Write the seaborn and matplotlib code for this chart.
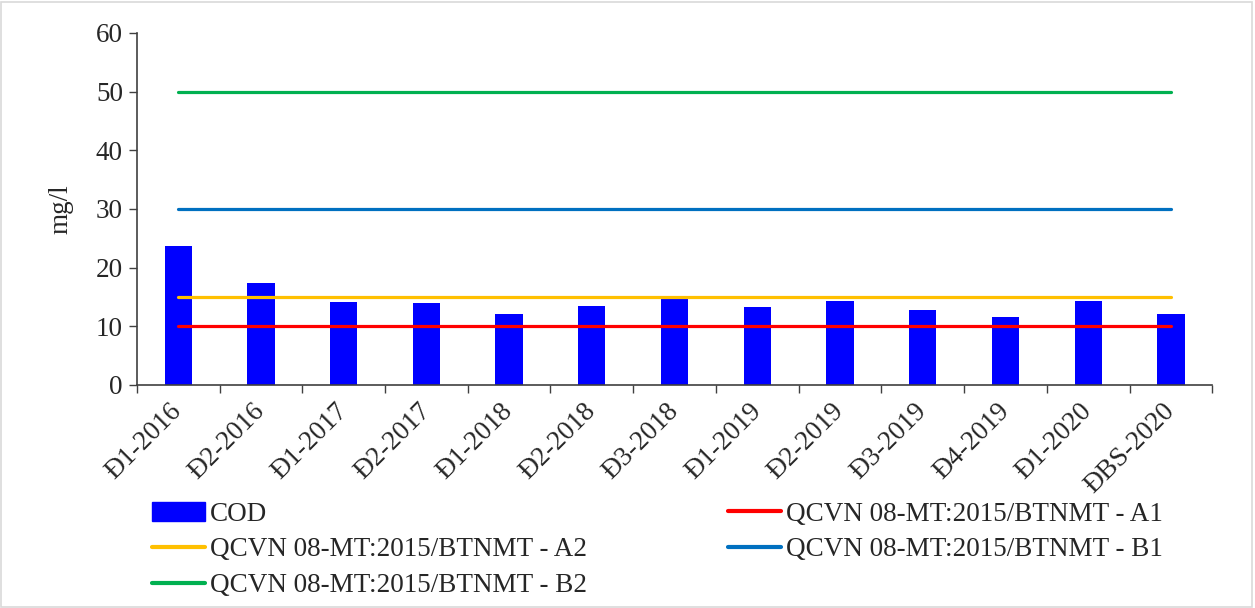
import matplotlib
matplotlib.use("Agg")
import matplotlib.pyplot as plt
import seaborn as sns
import pandas as pd
from matplotlib.patches import Rectangle
from matplotlib.lines import Line2D

categories = ["Đ1-2016", "Đ2-2016", "Đ1-2017", "Đ2-2017", "Đ1-2018", "Đ2-2018", "Đ3-2018",
              "Đ1-2019", "Đ2-2019", "Đ3-2019", "Đ4-2019", "Đ1-2020", "ĐBS-2020"]
cod = [23.7, 17.4, 14.1, 14.0, 12.0, 13.4, 14.7, 13.2, 14.3, 12.8, 11.5, 14.3, 12.1]
std_names = ["QCVN 08-MT:2015/BTNMT - A1", "QCVN 08-MT:2015/BTNMT - A2",
             "QCVN 08-MT:2015/BTNMT - B1", "QCVN 08-MT:2015/BTNMT - B2"]
std_values = [10, 15, 30, 50]
std_colors = ["#FF0000", "#FFC000", "#0070C0", "#00B050"]
yticks = [0, 10, 20, 30, 40, 50, 60]

FS = 19.5

sns.set_theme(style="white")
plt.rcParams["font.family"] = ["Liberation Serif", "DejaVu Serif"]

fig = plt.figure(figsize=(12.55, 6.08), dpi=100)
ax = fig.add_axes([0.109, 0.367, 0.857, 0.579])

df = pd.DataFrame({"cat": categories, "COD": cod})
sns.barplot(data=df, x="cat", y="COD", color="#0000FF", width=0.33, ax=ax,
            saturation=1, edgecolor="none", zorder=2)

xs = list(range(len(categories)))
for name, val, col in zip(std_names, std_values, std_colors):
    sns.lineplot(x=[xs[0], xs[-1]], y=[val, val], color=col, linewidth=2.3, ax=ax,
                 zorder=3, legend=False)

ax.set_xlim(-0.5, len(categories) - 0.5)
ax.set_ylim(0, 60)
ax.set_yticks(yticks)
ax.set_yticklabels([str(t) for t in yticks], fontsize=FS)
ax.set_xticks([i - 0.5 for i in range(len(categories) + 1)])
ax.set_xticklabels([])
ax.set_xticks(xs, minor=True)
ax.set_xticklabels(categories, minor=True, rotation=45, ha="right", va="center",
                   rotation_mode="anchor", fontsize=FS)
ax.tick_params(axis="x", which="minor", length=0, pad=16)
ax.tick_params(axis="x", which="major", direction="out", length=6, width=1, color="#404040", bottom=True)
ax.tick_params(axis="y", direction="out", length=6, width=1, color="#404040", left=True, pad=4)
ax.set_xlabel("")
ax.set_ylabel("mg/l", fontsize=FS, labelpad=16)
for s in ["top", "right"]:
    ax.spines[s].set_visible(False)
for s in ["left", "bottom"]:
    ax.spines[s].set_color("#404040")
    ax.spines[s].set_linewidth(1.2)

bar_handle = Rectangle((0, 0), 1, 1, color="#0000FF")
line_handles = [Line2D([0], [0], color=c, linewidth=3) for c in std_colors]
handles = [bar_handle, line_handles[1], line_handles[3], line_handles[0], line_handles[2]]
labels = ["COD", std_names[1], std_names[3], std_names[0], std_names[2]]
fig.legend(handles, labels, ncol=2, loc="upper left", bbox_to_anchor=(0.121, 0.175),
           frameon=False, fontsize=FS, handlelength=1.95, handletextpad=0.2,
           columnspacing=5.2, labelspacing=0.4, borderaxespad=0, borderpad=0)

fig.patches.append(Rectangle((0.001, 0.002), 0.997, 0.995, transform=fig.transFigure,
                             fill=False, edgecolor="#d9d9d9", linewidth=1.2))

fig.savefig("out.png", dpi=100)
